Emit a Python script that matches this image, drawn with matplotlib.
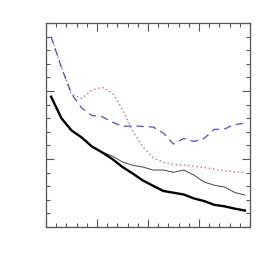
import matplotlib
matplotlib.use('Agg')  # no display available
import matplotlib.pyplot as plt
from matplotlib.ticker import MultipleLocator, NullFormatter

# x positions shared by all curves
x = [0.5, 1.5, 2.5, 3.5, 4.5, 5.5, 6.5, 7.5, 8.5, 9.5,
     10.5, 11.5, 12.5, 13.5, 14.5, 15.5, 16.5, 17.5, 18.5, 19.5]

# series values
thick_black = [0.958, 0.801, 0.710, 0.658, 0.592, 0.549, 0.500, 0.441, 0.393, 0.342,
               0.303, 0.265, 0.252, 0.239, 0.210, 0.191, 0.163, 0.152, 0.135, 0.121]
thin_gray = [0.958, 0.801, 0.710, 0.658, 0.592, 0.549, 0.522, 0.478, 0.454, 0.441,
             0.419, 0.419, 0.402, 0.419, 0.382, 0.331, 0.307, 0.294, 0.254, 0.235]
blue_dashed = [1.399, 1.176, 0.978, 0.875, 0.820, 0.811, 0.772, 0.739, 0.744, 0.739,
               0.735, 0.691, 0.610, 0.651, 0.629, 0.651, 0.717, 0.721, 0.754, 0.762]
red_dotted = [1.399, 1.176, 0.978, 0.945, 1.007, 1.027, 0.989, 0.864, 0.706, 0.588,
              0.511, 0.474, 0.460, 0.456, 0.446, 0.438, 0.425, 0.415, 0.405, 0.402]

fig = plt.figure(figsize=(2.73, 2.73), dpi=100)
ax = fig.add_axes([46 / 273, 46 / 273, 204 / 273, 204 / 273])

ax.plot(x, red_dotted, color='#e06666', linestyle=(0, (1, 2)), linewidth=1.0)
ax.plot(x, blue_dashed, color='#4a4aff', linestyle=(0, (6, 4)), linewidth=0.9)
ax.plot(x, thin_gray, color='#444444', linewidth=0.7)
ax.plot(x, thick_black, color='black', linewidth=1.7)

ax.set_xlim(0, 20)
ax.set_ylim(0, 1.5)

# ticks on all four sides, pointing in, no labels
ax.xaxis.set_major_locator(MultipleLocator(5))
ax.xaxis.set_minor_locator(MultipleLocator(1))
ax.yaxis.set_major_locator(MultipleLocator(0.5))
ax.yaxis.set_minor_locator(MultipleLocator(0.1))
ax.xaxis.set_major_formatter(NullFormatter())
ax.yaxis.set_major_formatter(NullFormatter())
ax.tick_params(which='both', direction='in', top=True, right=True, color='#555555', width=0.8)
ax.tick_params(which='major', length=5.5)
ax.tick_params(which='minor', length=3)

for side in ax.spines.values():
    side.set_color('#555555')
    side.set_linewidth(0.9)

plt.savefig('out.png', dpi=100)
plt.close()
